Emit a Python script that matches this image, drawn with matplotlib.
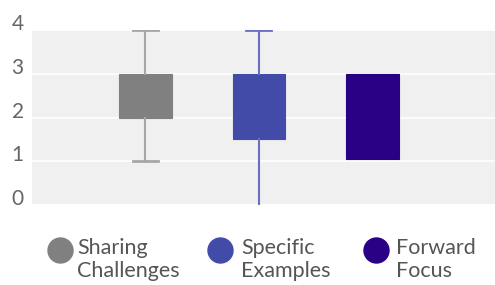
import matplotlib
matplotlib.use("Agg")
from matplotlib import pyplot as plt
from matplotlib.lines import Line2D
from matplotlib.transforms import ScaledTranslation

plt.rcParams['font.family'] = ['Lato', 'DejaVu Sans']

# données
categories = ['Sharing\nChallenges', 'Specific\nExamples', 'Forward\nFocus']
whisker_low = [1, 0, 1.05]
q1 = [2, 1.5, 1.05]
q3 = [3, 3, 3]
whisker_high = [4, 4, 3]
colors = ['#808080', '#434ba9', '#2a0085']
whisker_colors = ['#a6a6a6', '#6a70c0', '#2a0085']

W, H = 495, 285
fig = plt.figure(figsize=(W / 100, H / 100), dpi=100)
ax = fig.add_axes([32 / W, 80 / H, 1 - 32 / W, 175 / H])
ax.set_facecolor('#f0f0f0')

stats = []
for i in range(len(categories)):
    stats.append({'whislo': whisker_low[i], 'q1': q1[i], 'med': q1[i],
                  'q3': q3[i], 'whishi': whisker_high[i], 'fliers': []})

bp = ax.bxp(stats, positions=range(len(categories)), widths=0.46,
            patch_artist=True, showfliers=False, capwidths=0.22)
for i, box in enumerate(bp['boxes']):
    box.set_facecolor(colors[i])
    box.set_edgecolor(colors[i])
    box.set_linewidth(0.8)
    bp['medians'][i].set_visible(False)
    for k in (2 * i, 2 * i + 1):
        bp['whiskers'][k].set_color(whisker_colors[i])
        bp['whiskers'][k].set_linewidth(1.5)
        bp['caps'][k].set_color(whisker_colors[i])
        bp['caps'][k].set_linewidth(2)
    # pas de moustache -> pas de barre
    if whisker_low[i] >= q1[i] or whisker_low[i] == 0:
        bp['caps'][2 * i].set_visible(False)
    if whisker_high[i] <= q3[i]:
        bp['caps'][2 * i + 1].set_visible(False)

ax.set_xlim(-1.0, 3.08)
ax.set_ylim(0, 4)
ax.set_yticks([0, 1, 2, 3, 4])
ax.set_xticks([])
ax.grid(True, axis='y', color='white', linewidth=1.2)
ax.set_axisbelow(True)
for s in ax.spines.values():
    s.set_visible(False)
ax.tick_params(axis='y', length=0, labelsize=15, labelcolor='#666666', pad=6)
offset = ScaledTranslation(0, 8 / 100, fig.dpi_scale_trans)
for lab in ax.get_yticklabels():
    lab.set_transform(lab.get_transform() + offset)

# légende faite à la main (pastille alignée sur la 1re ligne)
leg_marker_x = [60, 220, 376]
leg_text_x = [77, 241, 396]
for i, lab in enumerate(categories):
    fig.add_artist(Line2D([leg_marker_x[i] / W], [1 - 250 / H],
                          transform=fig.transFigure, marker='o',
                          markersize=18, linestyle='none',
                          markerfacecolor=colors[i], markeredgecolor=colors[i]))
    fig.text(leg_text_x[i] / W, 1 - 238 / H, lab, ha='left', va='top',
             fontsize=15.5, color='#555555', linespacing=1.2)

plt.savefig('out.png', dpi=100)
